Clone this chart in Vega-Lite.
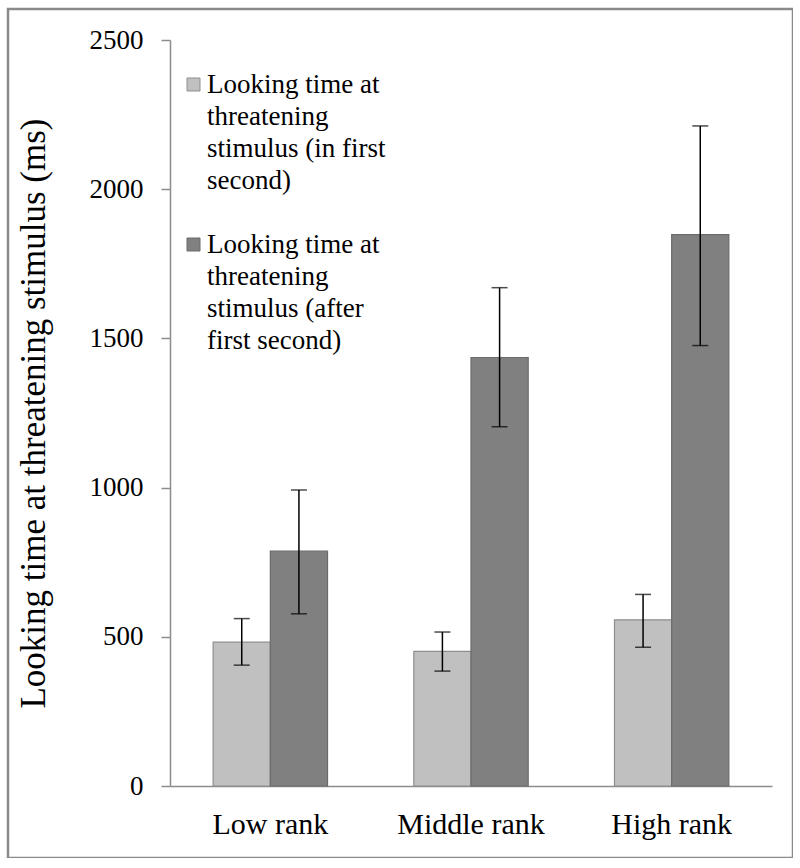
{
  "$schema": "https://vega.github.io/schema/vega-lite/v6.json",
  "width": 785,
  "height": 849,
  "autosize": {"type": "none"},
  "padding": {"left": 8, "top": 9, "right": 0, "bottom": 0},
  "background": "white",
  "config": {
    "view": {"stroke": "#8a8a8a", "strokeWidth": 2.5},
    "font": "Liberation Serif",
    "legend": {
      "labelFont": "Liberation Serif",
      "labelFontSize": 27,
      "labelColor": "black",
      "labelLineHeight": 32,
      "labelLimit": 0
    }
  },
  "data": {
    "values": [
      {"rank": "Low rank", "series": "first", "mean": 482, "lo": 405, "hi": 561},
      {"rank": "Low rank", "series": "after", "mean": 787, "lo": 577, "hi": 992},
      {"rank": "Middle rank", "series": "first", "mean": 451, "lo": 385, "hi": 516},
      {"rank": "Middle rank", "series": "after", "mean": 1436, "lo": 1204, "hi": 1670},
      {"rank": "High rank", "series": "first", "mean": 557, "lo": 465, "hi": 642},
      {"rank": "High rank", "series": "after", "mean": 1848, "lo": 1476, "hi": 2212}
    ]
  },
  "encoding": {
    "x": {
      "field": "rank",
      "type": "nominal",
      "sort": ["Low rank", "Middle rank", "High rank"],
      "scale": {"range": [162, 764], "paddingInner": 0.43, "paddingOuter": 0.215},
      "axis": {
        "title": null,
        "orient": "bottom",
        "offset": -72,
        "labelAngle": 0,
        "ticks": false,
        "domainColor": "#8c8c8c",
        "domainWidth": 1.5,
        "labelFontSize": 30,
        "labelColor": "black",
        "labelPadding": 23,
        "labelFont": "Liberation Serif"
      }
    },
    "xOffset": {
      "field": "series",
      "type": "nominal",
      "sort": ["first", "after"],
      "scale": {"paddingInner": 0, "paddingOuter": 0}
    }
  },
  "layer": [
    {
      "mark": {"type": "bar", "strokeWidth": 1.2},
      "encoding": {
        "y": {
          "field": "mean",
          "type": "quantitative",
          "scale": {"domain": [0, 2500], "range": [777, 31], "nice": false},
          "axis": {
            "orient": "left",
            "offset": -162,
            "values": [0, 500, 1000, 1500, 2000, 2500],
            "format": "d",
            "grid": false,
            "domainColor": "#8c8c8c",
            "domainWidth": 1.5,
            "tickColor": "#8c8c8c",
            "tickSize": 9,
            "tickWidth": 1.5,
            "labelFontSize": 27,
            "labelColor": "black",
            "labelPadding": 18,
            "labelFont": "Liberation Serif",
            "title": "Looking time at threatening stimulus (ms)",
            "titleFont": "Liberation Serif",
            "titleFontSize": 35,
            "titleFontWeight": "normal",
            "titleColor": "black",
            "titlePadding": 38
          }
        },
        "color": {
          "field": "series",
          "type": "nominal",
          "scale": {"domain": ["first", "after"], "range": ["#c0c0c0", "#808080"]},
          "legend": {
            "orient": "none",
            "legendX": 172,
            "legendY": 62,
            "title": null,
            "symbolType": "square",
            "symbolSize": 169,
            "symbolStrokeColor": "#7a7a7a",
            "symbolStrokeWidth": 1,
            "labelFont": "Liberation Serif",
            "labelFontSize": 27,
            "labelColor": "black",
            "labelLineHeight": 32,
            "labelLimit": 0,
            "labelOffset": 0,
            "labelBaseline": "top",
            "rowPadding": 36,
            "labelExpr": "datum.value == 'first' ? ['Looking time at', 'threatening', 'stimulus (in first', 'second)'] : ['Looking time at', 'threatening', 'stimulus (after', 'first second)']",
            "encode": {
              "labels": {
                "update": {
                  "dy": {"value": -13},
                  "font": {"value": "Times New Roman, Liberation Serif, serif"},
                  "fontSize": {"value": 27},
                  "lineHeight": {"value": 32}
                }
              }
            }
          }
        },
        "stroke": {
          "field": "series",
          "type": "nominal",
          "scale": {"domain": ["first", "after"], "range": ["#8e8e8e", "#6b6b6b"]},
          "legend": null
        }
      }
    },
    {
      "mark": {"type": "rule", "color": "black", "strokeWidth": 1.5},
      "encoding": {
        "y": {"field": "lo", "type": "quantitative"},
        "y2": {"field": "hi"}
      }
    },
    {
      "mark": {"type": "tick", "color": "black", "thickness": 1.5, "size": 16, "orient": "horizontal"},
      "encoding": {"y": {"field": "lo", "type": "quantitative"}}
    },
    {
      "mark": {"type": "tick", "color": "black", "thickness": 1.5, "size": 16, "orient": "horizontal"},
      "encoding": {"y": {"field": "hi", "type": "quantitative"}}
    }
  ]
}
